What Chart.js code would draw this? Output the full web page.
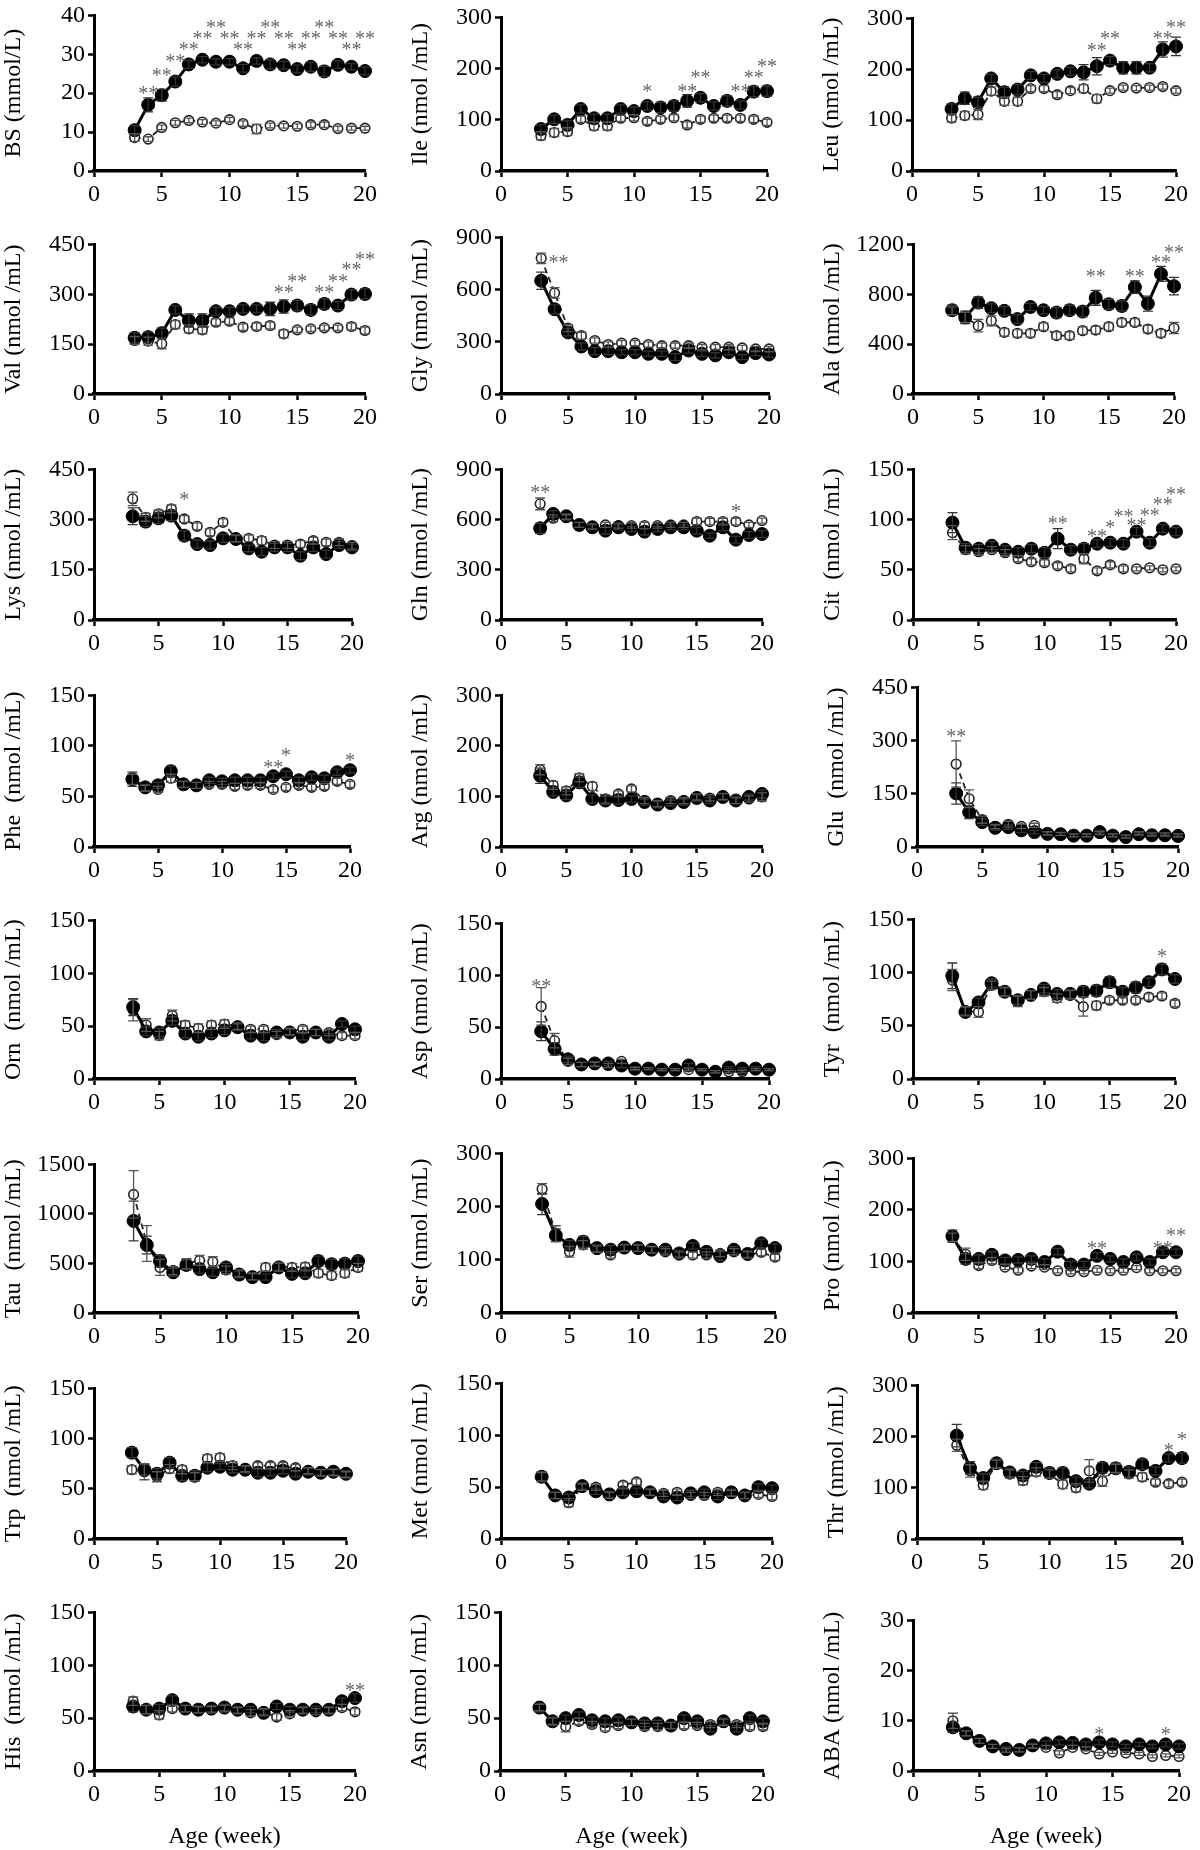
<!DOCTYPE html>
<html>
<head>
<meta charset="utf-8">
<script src="https://cdn.jsdelivr.net/npm/chart.js@4.4.0/dist/chart.umd.min.js"></script>
<style>
html, body { margin: 0; padding: 0; background: #fff; }
body { width: 1200px; height: 1850px; position: relative; overflow: hidden; }
canvas { position: absolute; }
</style>
</head>
<body>
<script>
// Age in weeks, shared by every panel
const weeks = [3, 4, 5, 6, 7, 8, 9, 10, 11, 12, 13, 14, 15, 16, 17, 18, 19, 20];

// BS
const bsFill = [10.5, 17, 19.5, 23, 27.4, 28.6, 28.1, 28.1, 26.4, 28.3, 27.4, 27.2, 26.2, 26.8, 25.6, 27.3, 26.8, 25.7];
const bsOpen = [8.6, 8.2, 11.2, 12.4, 13.0, 12.6, 12.3, 13.2, 12.2, 10.8, 11.7, 11.6, 11.5, 11.9, 11.9, 10.9, 11.0, 11.0];
const bsFillErr = [1.2, 1.8, 1.5, 1.2, 1.0, 0.8, 0.8, 0.8, 1.0, 0.8, 1.2, 1.0, 1.0, 1.2, 1.3, 1.0, 0.8, 1.0];
const bsOpenErr = [1.0, 0.6, 0.6, 0.6, 0.6, 0.6, 0.6, 0.6, 0.7, 1.2, 0.6, 0.6, 0.6, 0.7, 0.7, 0.6, 0.5, 0.5];
const bsStars = [[4, 21, '**'], [5, 25.4, '**'], [6, 29, '**'], [7, 32.1, '**'], [8, 34.9, '**'], [9, 37.9, '**'], [10, 34.9, '**'], [11, 32.1, '**'], [12, 34.9, '**'], [13, 37.9, '**'], [14, 34.9, '**'], [15, 32.1, '**'], [16, 34.9, '**'], [17, 37.9, '**'], [18, 34.9, '**'], [19, 32.1, '**'], [20, 34.9, '**']];

// Ile
const ileFill = [82, 101, 90, 121, 103, 103, 121, 117, 127, 124, 127, 137, 143, 127, 137, 129, 155, 156];
const ileOpen = [69, 75, 77, 101, 88, 88, 103, 104, 97, 101, 104, 90, 101, 103, 103, 103, 101, 95];
const ileFillErr = [8, 8, 8, 8, 8, 8, 8, 8, 8, 10, 10, 12, 8, 8, 10, 8, 10, 10];
const ileOpenErr = [8, 8, 8, 6, 8, 8, 6, 6, 6, 6, 6, 6, 6, 6, 6, 6, 6, 6];
const ileStars = [[11, 163, '*'], [14, 163, '**'], [15, 190, '**'], [18, 163, '**'], [19, 190, '**'], [20, 212, '**']];

// Leu
const leuFill = [122, 143, 135, 182, 155, 160, 188, 182, 191, 196, 194, 206, 217, 203, 203, 203, 239, 245];
const leuOpen = [104, 109, 111, 157, 137, 137, 162, 162, 150, 158, 162, 142, 158, 164, 163, 164, 166, 158];
const leuFillErr = [10, 12, 10, 8, 10, 10, 8, 8, 8, 8, 15, 17, 8, 12, 12, 8, 15, 18];
const leuOpenErr = [8, 8, 10, 8, 8, 8, 6, 6, 6, 6, 8, 8, 5, 5, 5, 5, 5, 5];
const leuStars = [[14, 245, '**'], [15, 268, '**'], [19, 268, '**'], [20, 289, '**']];

// Val
const valFill = [169, 171, 183, 253, 221, 221, 249, 249, 256, 256, 256, 263, 266, 253, 271, 266, 299, 301];
const valOpen = [161, 159, 151, 209, 196, 193, 216, 219, 201, 203, 206, 181, 193, 196, 199, 199, 203, 191];
const valFillErr = [15, 15, 15, 12, 20, 20, 12, 12, 12, 12, 20, 20, 15, 15, 15, 12, 15, 15];
const valOpenErr = [12, 12, 15, 12, 12, 12, 10, 10, 10, 10, 10, 12, 8, 8, 8, 8, 10, 10];
const valStars = [[14, 316, '**'], [15, 351, '**'], [17, 316, '**'], [18, 351, '**'], [19, 385, '**'], [20, 415, '**']];

// Gly
const glyFill = [651, 487, 354, 273, 246, 246, 240, 240, 231, 231, 212, 250, 231, 222, 240, 212, 235, 227];
const glyOpen = [780, 581, 379, 335, 307, 284, 292, 292, 284, 278, 278, 278, 269, 269, 269, 265, 259, 259];
const glyFillErr = [50, 25, 20, 20, 20, 20, 15, 15, 15, 15, 20, 15, 15, 15, 15, 15, 15, 15];
const glyOpenErr = [30, 30, 20, 20, 15, 15, 15, 15, 15, 15, 15, 15, 15, 15, 15, 15, 15, 15];
const glyStars = [[4.3, 775, '**']];

// Ala
const alaFill = [672, 614, 733, 688, 667, 601, 698, 672, 653, 672, 661, 772, 720, 706, 857, 725, 963, 865];
const alaOpen = [667, 614, 548, 587, 495, 487, 487, 540, 468, 468, 508, 513, 540, 574, 574, 521, 487, 529];
const alaFillErr = [40, 50, 45, 35, 35, 35, 30, 30, 40, 40, 40, 60, 40, 40, 50, 60, 60, 70];
const alaOpenErr = [30, 40, 50, 40, 30, 30, 30, 30, 30, 30, 30, 30, 30, 30, 30, 30, 30, 45];
const alaStars = [[14, 971, '**'], [17, 971, '**'], [19, 1085, '**'], [20, 1169, '**']];

// Lys
const lysFill = [310, 294, 304, 312, 252, 227, 224, 244, 242, 214, 204, 217, 217, 192, 217, 197, 224, 217];
const lysOpen = [362, 307, 317, 332, 302, 280, 262, 292, 244, 244, 237, 224, 224, 227, 237, 232, 232, 222];
const lysFillErr = [25, 15, 15, 15, 15, 12, 12, 12, 10, 10, 12, 12, 12, 12, 12, 12, 10, 10];
const lysOpenErr = [20, 12, 12, 12, 10, 10, 10, 10, 10, 10, 12, 10, 10, 10, 10, 10, 10, 10];
const lysStars = [[7, 370, '*']];

// Gln
const glnFill = [548, 634, 620, 568, 554, 534, 554, 544, 528, 544, 554, 554, 534, 504, 554, 480, 508, 514];
const glnOpen = [694, 608, 614, 568, 560, 568, 564, 564, 564, 564, 568, 568, 588, 588, 588, 588, 568, 594];
const glnFillErr = [30, 20, 15, 15, 15, 20, 15, 15, 20, 15, 15, 15, 20, 15, 20, 20, 20, 20];
const glnOpenErr = [35, 20, 15, 15, 15, 15, 15, 15, 20, 15, 15, 15, 20, 20, 20, 20, 15, 15];
const glnStars = [[3, 784, '**'], [18, 668, '*']];

// Cit
const citFill = [97, 72, 71, 74, 70, 68, 71, 67, 81, 70, 71, 76, 77, 76, 88, 77, 91, 88];
const citOpen = [87, 70, 68, 70, 67, 61, 58, 57, 54, 51, 61, 49, 55, 51, 51, 52, 50, 51];
const citFillErr = [10, 4, 4, 4, 4, 4, 4, 5, 10, 4, 5, 4, 4, 4, 4, 4, 4, 4];
const citOpenErr = [7, 4, 3, 3, 3, 3, 3, 3, 3, 3, 5, 3, 3, 3, 2, 2, 2, 2];
const citStars = [[11, 100, '**'], [14, 87, '**'], [15, 96, '*'], [16, 107, '**'], [17, 98, '**'], [18, 108, '**'], [19, 119, '**'], [20, 129, '**']];

// Phe
const pheFill = [67, 59, 61, 75, 62, 61, 66, 65, 66, 66, 66, 70, 72, 66, 69, 68, 74, 76];
const pheOpen = [67, 58, 57, 68, 62, 61, 62, 62, 60, 61, 61, 57, 59, 61, 59, 60, 65, 62];
const pheFillErr = [7, 3, 3, 5, 3, 3, 3, 3, 3, 3, 3, 3, 3, 3, 3, 3, 3, 3];
const pheOpenErr = [5, 3, 3, 4, 3, 3, 3, 3, 3, 3, 3, 3, 3, 3, 3, 3, 3, 3];
const pheStars = [[14, 82, '**'], [15, 94, '*'], [20, 89, '*']];

// Arg
const argFill = [141, 109, 102, 128, 95, 92, 93, 95, 89, 84, 87, 89, 97, 92, 99, 92, 99, 105];
const argOpen = [153, 122, 111, 137, 120, 95, 105, 115, 92, 86, 92, 92, 99, 97, 100, 92, 95, 99];
const argFillErr = [15, 8, 8, 10, 8, 8, 8, 6, 6, 6, 6, 6, 6, 6, 6, 6, 6, 8];
const argOpenErr = [10, 8, 8, 8, 8, 8, 6, 6, 6, 6, 6, 6, 6, 6, 6, 6, 6, 8];
const argStars = [];

// Glu
const gluFill = [151, 98, 70, 54, 56, 47, 42, 37, 36, 32, 32, 42, 32, 28, 36, 33, 33, 31];
const gluOpen = [234, 136, 77, 58, 64, 58, 61, 39, 37, 33, 33, 39, 33, 30, 39, 36, 36, 33];
const gluFillErr = [30, 18, 10, 6, 6, 6, 5, 5, 4, 4, 4, 5, 4, 4, 4, 4, 4, 4];
const gluOpenErr = [65, 25, 10, 6, 8, 6, 6, 4, 4, 4, 4, 4, 4, 4, 4, 4, 4, 4];
const gluStars = [[3, 322, '**']];

// Orn
const ornFill = [68, 45, 44, 55, 43, 40, 43, 46, 49, 41, 40, 44, 44, 40, 44, 40, 52, 47];
const ornOpen = [65, 51, 41, 60, 51, 48, 51, 52, 50, 47, 47, 42, 45, 47, 44, 44, 41, 41];
const ornFillErr = [8, 4, 4, 4, 4, 4, 4, 4, 3, 3, 4, 3, 3, 3, 3, 3, 3, 3];
const ornOpenErr = [10, 6, 4, 5, 4, 4, 4, 4, 3, 3, 3, 3, 3, 3, 3, 3, 3, 3];
const ornStars = [];

// Asp
const aspFill = [46, 29, 19, 14, 15, 15, 13, 10, 10, 9, 9, 13, 9, 7, 11, 10, 10, 9];
const aspOpen = [70, 37, 17, 14, 14, 13, 17, 10, 10, 9, 9, 9, 9, 7, 7, 7, 9, 9];
const aspFillErr = [9, 6, 3, 2, 2, 2, 2, 2, 1, 1, 1, 2, 1, 1, 1, 1, 2, 1];
const aspOpenErr = [18, 7, 3, 2, 2, 2, 2, 1, 1, 1, 1, 1, 1, 1, 1, 1, 1, 1];
const aspStars = [[3, 93, '**']];

// Tyr
const tyrFill = [97, 63, 72, 90, 82, 74, 79, 85, 80, 80, 82, 83, 91, 82, 86, 91, 103, 94];
const tyrOpen = [93, 64, 63, 88, 82, 73, 79, 82, 76, 79, 68, 69, 74, 74, 74, 77, 78, 71];
const tyrFillErr = [12, 4, 4, 4, 4, 4, 4, 4, 4, 4, 5, 5, 5, 4, 5, 4, 5, 4];
const tyrOpenErr = [10, 4, 5, 4, 4, 5, 4, 4, 4, 4, 9, 4, 3, 3, 3, 3, 3, 3];
const tyrStars = [[19, 119, '*']];

// Tau
const tauFill = [929, 686, 524, 411, 485, 443, 411, 460, 388, 362, 362, 460, 395, 401, 524, 492, 498, 524];
const tauOpen = [1197, 702, 460, 427, 498, 531, 518, 434, 401, 369, 460, 466, 460, 466, 401, 379, 401, 460];
const tauFillErr = [200, 90, 60, 40, 50, 40, 40, 40, 35, 30, 30, 40, 40, 40, 50, 50, 50, 50];
const tauOpenErr = [240, 180, 80, 40, 50, 50, 50, 40, 35, 35, 40, 40, 40, 40, 40, 40, 40, 40];
const tauStars = [];

// Ser
const serFill = [205, 146, 128, 134, 122, 119, 123, 122, 119, 119, 112, 126, 115, 107, 119, 111, 131, 122];
const serOpen = [233, 149, 115, 128, 120, 109, 122, 122, 119, 115, 109, 109, 109, 112, 115, 109, 114, 105];
const serFillErr = [20, 12, 8, 10, 6, 8, 6, 6, 6, 6, 6, 6, 6, 8, 6, 6, 8, 8];
const serOpenErr = [10, 15, 10, 8, 6, 6, 6, 6, 6, 6, 6, 6, 6, 6, 6, 6, 6, 6];
const serStars = [];

// Pro
const proFill = [149, 105, 105, 113, 102, 103, 105, 99, 119, 94, 94, 111, 105, 99, 108, 99, 118, 118];
const proOpen = [147, 114, 92, 102, 89, 83, 91, 89, 82, 80, 80, 83, 82, 83, 88, 82, 82, 82];
const proFillErr = [12, 10, 8, 6, 6, 6, 6, 6, 6, 6, 6, 6, 6, 6, 6, 6, 6, 6];
const proOpenErr = [8, 12, 6, 6, 5, 5, 5, 5, 4, 4, 4, 4, 4, 4, 4, 4, 4, 4];
const proStars = [[14, 133, '**'], [19, 133, '**'], [20, 158, '**']];

// Trp
const trpFill = [86, 69, 65, 76, 63, 63, 71, 72, 69, 69, 66, 66, 68, 65, 67, 66, 67, 65];
const trpOpen = [69, 67, 62, 70, 69, 62, 80, 81, 73, 70, 73, 73, 73, 71, 68, 66, 66, 64];
const trpFillErr = [5, 5, 5, 5, 5, 5, 4, 3, 3, 3, 4, 3, 3, 3, 3, 3, 3, 3];
const trpOpenErr = [4, 8, 5, 4, 4, 4, 4, 4, 4, 3, 3, 3, 3, 3, 3, 3, 3, 3];
const trpStars = [];

// Met
const metFill = [60, 42, 40, 51, 46, 43, 45, 46, 45, 41, 40, 44, 45, 41, 45, 42, 50, 49];
const metOpen = [60, 42, 35, 50, 50, 42, 52, 55, 45, 44, 45, 42, 42, 45, 44, 42, 43, 41];
const metFillErr = [5, 3, 3, 3, 3, 3, 3, 3, 3, 3, 3, 3, 3, 3, 3, 3, 3, 3];
const metOpenErr = [4, 3, 4, 3, 3, 3, 3, 3, 3, 3, 3, 3, 3, 3, 3, 3, 3, 3];
const metStars = [];

// Thr
const thrFill = [202, 139, 119, 148, 130, 124, 141, 129, 129, 113, 108, 139, 138, 131, 146, 133, 158, 158];
const thrOpen = [183, 133, 105, 146, 127, 114, 131, 127, 107, 100, 133, 113, 138, 127, 121, 111, 108, 111];
const thrFillErr = [22, 12, 8, 8, 8, 8, 8, 10, 10, 8, 8, 10, 10, 10, 10, 8, 8, 10];
const thrOpenErr = [12, 12, 8, 8, 8, 8, 8, 8, 8, 8, 22, 10, 8, 8, 8, 6, 6, 6];
const thrStars = [[19, 180, '*'], [20, 202, '*']];

// His
const hisFill = [61, 58, 59, 67, 59, 58, 59, 60, 58, 58, 55, 61, 58, 58, 58, 58, 66, 69];
const hisOpen = [66, 58, 53, 59, 59, 58, 58, 59, 57, 55, 56, 51, 54, 57, 56, 57, 60, 56];
const hisFillErr = [5, 4, 4, 4, 3, 3, 3, 3, 3, 3, 3, 3, 3, 3, 3, 3, 3, 4];
const hisOpenErr = [4, 4, 4, 3, 3, 3, 3, 3, 3, 3, 3, 3, 3, 3, 3, 3, 3, 3];
const hisStars = [[20, 80, '**']];

// Asn
const asnFill = [60, 47, 50, 53, 48, 47, 48, 46, 45, 45, 43, 50, 47, 40, 47, 40, 50, 47];
const asnOpen = [60, 47, 42, 47, 44, 41, 43, 46, 42, 42, 43, 43, 43, 44, 46, 44, 42, 42];
const asnFillErr = [4, 4, 3, 3, 3, 3, 3, 3, 3, 3, 3, 3, 3, 3, 3, 3, 3, 3];
const asnOpenErr = [3, 3, 5, 3, 3, 3, 3, 3, 3, 3, 3, 3, 3, 3, 3, 3, 3, 3];
const asnStars = [];

// ABA
const abaFill = [8.7, 7.5, 6.0, 4.9, 4.4, 4.2, 5.1, 5.5, 5.7, 5.6, 5.3, 5.7, 5.3, 4.9, 5.3, 4.9, 5.3, 4.9];
const abaOpen = [10, 7.5, 6.0, 4.9, 4.1, 4.2, 4.9, 4.7, 3.6, 4.7, 4.4, 3.4, 3.8, 3.6, 3.4, 2.9, 3.1, 2.9];
const abaFillErr = [1, 0.5, 0.5, 0.4, 0.4, 0.4, 0.4, 0.5, 0.5, 0.5, 0.5, 0.5, 0.5, 0.4, 0.4, 0.4, 0.5, 0.5];
const abaOpenErr = [1.5, 0.5, 0.5, 0.4, 0.4, 0.4, 0.4, 0.4, 0.4, 0.4, 0.4, 0.3, 0.3, 0.3, 0.3, 0.3, 0.3, 0.3];
const abaStars = [[14, 8.1, '*'], [19, 8.1, '*']];

// Panels, left to right, top to bottom: title, y max, y step, series
const panels = [
    ['BS (mmol/L)', 40, 10, bsFill, bsOpen, bsFillErr, bsOpenErr, bsStars],
    ['Ile (nmol /mL)', 300, 100, ileFill, ileOpen, ileFillErr, ileOpenErr, ileStars],
    ['Leu (nmol /mL)', 300, 100, leuFill, leuOpen, leuFillErr, leuOpenErr, leuStars],
    ['Val (nmol /mL)', 450, 150, valFill, valOpen, valFillErr, valOpenErr, valStars],
    ['Gly (nmol /mL)', 900, 300, glyFill, glyOpen, glyFillErr, glyOpenErr, glyStars],
    ['Ala (nmol /mL)', 1200, 400, alaFill, alaOpen, alaFillErr, alaOpenErr, alaStars],
    ['Lys (nmol /mL)', 450, 150, lysFill, lysOpen, lysFillErr, lysOpenErr, lysStars],
    ['Gln (nmol /mL)', 900, 300, glnFill, glnOpen, glnFillErr, glnOpenErr, glnStars],
    ['Cit  (nmol /mL)', 150, 50, citFill, citOpen, citFillErr, citOpenErr, citStars],
    ['Phe  (nmol /mL)', 150, 50, pheFill, pheOpen, pheFillErr, pheOpenErr, pheStars],
    ['Arg (nmol /mL)', 300, 100, argFill, argOpen, argFillErr, argOpenErr, argStars],
    ['Glu  (nmol /mL)', 450, 150, gluFill, gluOpen, gluFillErr, gluOpenErr, gluStars],
    ['Orn  (nmol /mL)', 150, 50, ornFill, ornOpen, ornFillErr, ornOpenErr, ornStars],
    ['Asp (nmol /mL)', 150, 50, aspFill, aspOpen, aspFillErr, aspOpenErr, aspStars],
    ['Tyr  (nmol /mL)', 150, 50, tyrFill, tyrOpen, tyrFillErr, tyrOpenErr, tyrStars],
    ['Tau  (nmol /mL)', 1500, 500, tauFill, tauOpen, tauFillErr, tauOpenErr, tauStars],
    ['Ser (nmol /mL)', 300, 100, serFill, serOpen, serFillErr, serOpenErr, serStars],
    ['Pro (nmol /mL)', 300, 100, proFill, proOpen, proFillErr, proOpenErr, proStars],
    ['Trp  (nmol /mL)', 150, 50, trpFill, trpOpen, trpFillErr, trpOpenErr, trpStars],
    ['Met (nmol /mL)', 150, 50, metFill, metOpen, metFillErr, metOpenErr, metStars],
    ['Thr (nmol /mL)', 300, 100, thrFill, thrOpen, thrFillErr, thrOpenErr, thrStars],
    ['His  (nmol /mL)', 150, 50, hisFill, hisOpen, hisFillErr, hisOpenErr, hisStars],
    ['Asn (nmol /mL)', 150, 50, asnFill, asnOpen, asnFillErr, asnOpenErr, asnStars],
    ['ABA (nmol /mL)', 30, 10, abaFill, abaOpen, abaFillErr, abaOpenErr, abaStars]
];

// Plot boxes in page pixels: y-axis x, plot width, plot top, plot bottom
const boxes = [
    [94, 271, 14, 171], [501, 266, 16, 171], [912, 264, 17, 171],
    [94, 271, 243, 394], [501, 268, 236, 394], [913, 261, 243, 394],
    [94, 258, 468, 620], [501, 261, 468, 620], [913, 263, 468, 620],
    [94, 256, 694, 847], [501, 261, 694, 847], [917, 261, 686, 847],
    [94, 261, 919, 1079], [501, 268, 922, 1079], [913, 262, 918, 1079],
    [94, 264, 1163, 1313], [501, 274, 1152, 1313], [913, 263, 1157, 1313],
    [94, 252, 1387, 1539], [501, 271, 1382, 1539], [917, 265, 1384, 1539],
    [94, 261, 1611, 1771], [500, 263, 1611, 1771], [913, 266, 1619, 1771]
];

Chart.defaults.font.family = "'Liberation Serif', 'Times New Roman', serif";
Chart.defaults.font.size = 24;
Chart.defaults.color = '#000';

const Y_W = 95;        // room for y title + tick labels
const PAD_TOP = 16;
const PAD_RIGHT = 22;
const X_H = 50;        // x ticks only
const X_H_LAST = 80;   // x ticks + "Age (week)"

// error bars (SEM) and significance asterisks
function makeMarks(stars) {
    return {
        id: 'marks',
        afterDatasetsDraw: (chart) => {
            const ctx = chart.ctx;
            const xs = chart.scales.x;
            const ys = chart.scales.y;
            chart.data.datasets.forEach((ds, i) => {
                const meta = chart.getDatasetMeta(i);
                ctx.save();
                ctx.strokeStyle = ds.errColor;
                ctx.lineWidth = 1.3;
                meta.data.forEach((pt, j) => {
                    const v = ds.data[j].y;
                    const e = ds.errors[j];
                    const yTop = ys.getPixelForValue(v + e);
                    const yBot = ys.getPixelForValue(v - e);
                    ctx.beginPath();
                    ctx.moveTo(pt.x, yTop);
                    ctx.lineTo(pt.x, yBot);
                    ctx.moveTo(pt.x - 5, yTop);
                    ctx.lineTo(pt.x + 5, yTop);
                    ctx.moveTo(pt.x - 5, yBot);
                    ctx.lineTo(pt.x + 5, yBot);
                    ctx.stroke();
                });
                ctx.restore();
            });

            ctx.save();
            ctx.font = "20px 'Liberation Serif', serif";
            ctx.fillStyle = '#666';
            ctx.textAlign = 'center';
            ctx.textBaseline = 'middle';
            stars.forEach(([w, v, txt]) => {
                ctx.fillText(txt, xs.getPixelForValue(w), ys.getPixelForValue(v) + 5);
            });
            ctx.restore();
        }
    };
}

function toPoints(values) {
    return weeks.map((w, i) => ({ x: w, y: values[i] }));
}

panels.forEach((p, idx) => {
    const [title, yMax, yStep, fill, open, fillErr, openErr, stars] = p;
    const [axisX, plotW, top, bottom] = boxes[idx];
    const isLast = idx >= 21;
    const xh = isLast ? X_H_LAST : X_H;

    const canvas = document.createElement('canvas');
    const w = Y_W + plotW + PAD_RIGHT;
    const h = PAD_TOP + (bottom - top) + xh;
    canvas.width = w;
    canvas.height = h;
    canvas.style.left = (axisX - Y_W) + 'px';
    canvas.style.top = (top - PAD_TOP) + 'px';
    canvas.style.width = w + 'px';
    canvas.style.height = h + 'px';
    document.body.appendChild(canvas);

    new Chart(canvas.getContext('2d'), {
        type: 'line',
        data: {
            datasets: [{
                data: toPoints(fill),
                errors: fillErr,
                errColor: '#333',
                borderColor: '#000',
                borderWidth: 3,
                pointRadius: 6.5,
                pointBackgroundColor: '#000',
                pointBorderColor: '#000',
                pointBorderWidth: 1,
                tension: 0,
                clip: false
            }, {
                data: toPoints(open),
                errors: openErr,
                errColor: '#555',
                borderColor: '#222',
                borderWidth: 1.8,
                borderDash: [6, 4],
                pointRadius: 4.8,
                pointBackgroundColor: '#fff',
                pointBorderColor: '#222',
                pointBorderWidth: 1.6,
                tension: 0,
                clip: false
            }]
        },
        options: {
            responsive: false,
            animation: false,
            layout: {
                padding: { top: PAD_TOP, right: PAD_RIGHT, left: 0, bottom: 0 }
            },
            plugins: {
                legend: { display: false },
                tooltip: { enabled: false }
            },
            scales: {
                x: {
                    type: 'linear',
                    min: 0,
                    max: 20,
                    afterFit: (s) => { s.height = xh; },
                    border: { display: true, color: '#000', width: 3.5 },
                    grid: { drawOnChartArea: false, tickLength: 6, tickWidth: 2.5, tickColor: '#000' },
                    ticks: { stepSize: 5, padding: 3, maxRotation: 0, autoSkip: false, callback: (v) => String(v) },
                    title: { display: isLast, text: 'Age (week)', padding: 0 }
                },
                y: {
                    min: 0,
                    max: yMax,
                    afterFit: (s) => { s.width = Y_W; },
                    border: { display: true, color: '#000', width: 3 },
                    grid: { drawOnChartArea: false, tickLength: 6, tickWidth: 2.5, tickColor: '#000' },
                    ticks: { stepSize: yStep, padding: 3, autoSkip: false, callback: (v) => String(v) },
                    title: { display: true, text: title, padding: 0 }
                }
            }
        },
        plugins: [makeMarks(stars)]
    });
});
</script>
</body>
</html>
